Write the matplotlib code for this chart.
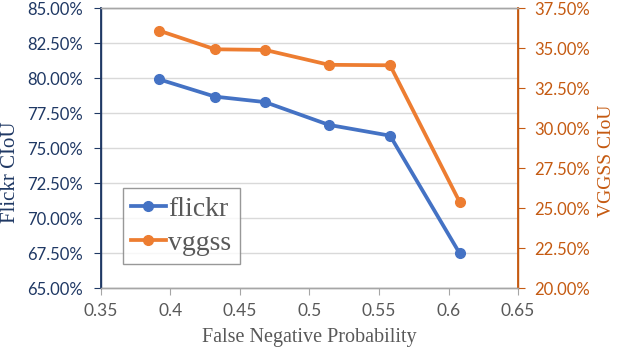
import matplotlib
matplotlib.use("Agg")
import matplotlib.pyplot as plt
from matplotlib.ticker import FuncFormatter, FixedLocator

fnp = [0.392, 0.432, 0.468, 0.514, 0.558, 0.608]
flickr = [79.9, 78.67, 78.28, 76.65, 75.88, 67.48]
vggss = [36.08, 34.92, 34.88, 33.95, 33.92, 25.38]
x_ticks = [0.35, 0.4, 0.45, 0.5, 0.55, 0.6, 0.65]
x_tick_labels = ["0.35", "0.4", "0.45", "0.5", "0.55", "0.6", "0.65"]
left_ticks = [65, 67.5, 70, 72.5, 75, 77.5, 80, 82.5, 85]
right_ticks = [20, 22.5, 25, 27.5, 30, 32.5, 35, 37.5]

BLUE = "#4472C4"
ORANGE = "#ED7D31"
NAVY = "#1F3864"
RUST = "#C55A11"
GRAY = "#595959"

fig = plt.figure(figsize=(6.18, 3.54), dpi=100)
ax = fig.add_axes([0.1634, 0.1864, 0.6748, 0.791])
ax2 = ax.twinx()

tickfont = "Lato"
serif = "Liberation Serif"

l1, = ax.plot(fnp, flickr, color=BLUE, lw=2.7, marker="o", ms=7, label="flickr", zorder=3)
l2, = ax2.plot(fnp, vggss, color=ORANGE, lw=2.7, marker="o", ms=7, label="vggss", zorder=3)

ax.set_xlim(0.35, 0.65)
ax.set_ylim(65, 85)
ax2.set_ylim(20, 37.5)
ax.xaxis.set_major_locator(FixedLocator(x_ticks))
ax.set_xticklabels(x_tick_labels)
ax.yaxis.set_major_locator(FixedLocator(left_ticks))
ax2.yaxis.set_major_locator(FixedLocator(right_ticks))
pct = FuncFormatter(lambda v, p: f"{v:.2f}%")
ax.yaxis.set_major_formatter(pct)
ax2.yaxis.set_major_formatter(pct)

ax.grid(axis="y", color="#D9D9D9", lw=1.0)
ax.set_axisbelow(True)

for a in (ax, ax2):
    for s in a.spines.values():
        s.set_linewidth(1.0)
    a.spines["top"].set_color("#A6A6A6")
    a.spines["bottom"].set_color("#A6A6A6")
    a.spines["left"].set_color(NAVY)
    a.spines["right"].set_color(RUST)

ax.spines["left"].set_linewidth(1.3)
ax2.spines["right"].set_linewidth(1.3)

ax.tick_params(axis="x", colors="#A6A6A6", labelcolor=GRAY, length=5, direction="out", labelsize=12.5, pad=6)
ax.tick_params(axis="y", colors=NAVY, labelcolor=NAVY, length=5, direction="out", labelsize=12, pad=8)
ax2.tick_params(axis="y", colors=RUST, labelcolor=RUST, length=5, direction="out", labelsize=12, pad=7)
for lab in ax.get_xticklabels() + ax.get_yticklabels() + ax2.get_yticklabels():
    lab.set_family(tickfont)

ax.set_xlabel("False Negative Probability", family=serif, fontsize=14.5, color=GRAY)
ax.set_ylabel("Flickr CIoU", family=serif, fontsize=15, color=NAVY)
ax2.set_ylabel("VGGSS CIoU", family=serif, fontsize=14, color=RUST)
ax.xaxis.set_label_coords(0.5, -0.142)
ax.yaxis.set_label_coords(-0.194, 0.415)
ax2.yaxis.set_label_coords(1.192, 0.455)

leg = ax.legend(handles=[l1, l2], loc="upper left", bbox_to_anchor=(0.052, 0.357),
                prop={"family": serif, "size": 20}, frameon=True, fancybox=False,
                edgecolor="#7F7F7F", handlelength=1.25, handletextpad=0.1,
                borderpad=0.3, labelspacing=0.3, labelcolor=GRAY, borderaxespad=0)
leg.get_frame().set_linewidth(1.0)
leg.set_zorder(5)

fig.savefig("out.png", dpi=100)
